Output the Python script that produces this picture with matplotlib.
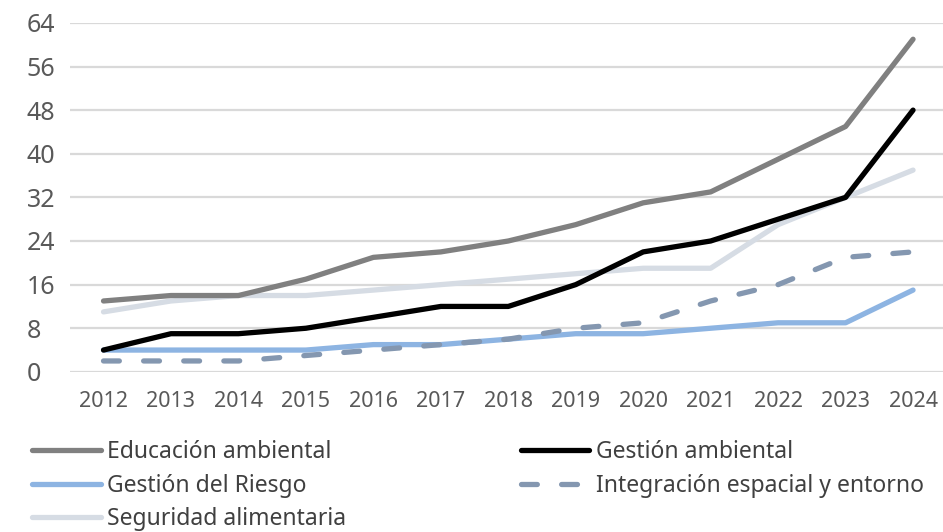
import matplotlib
matplotlib.use('Agg')
import matplotlib.pyplot as plt

plt.rcParams['font.family'] = ['Noto Sans', 'DejaVu Sans']

years = ['2012', '2013', '2014', '2015', '2016', '2017', '2018',
         '2019', '2020', '2021', '2022', '2023', '2024']

educacion = [13, 14, 14, 17, 21, 22, 24, 27, 31, 33, 39, 45, 61]
gestion_amb = [4, 7, 7, 8, 10, 12, 12, 16, 22, 24, 28, 32, 48]
riesgo = [4, 4, 4, 4, 5, 5, 6, 7, 7, 8, 9, 9, 15]
integracion = [2, 2, 2, 3, 4, 5, 6, 8, 9, 13, 16, 21, 22]
seguridad = [11, 13, 14, 14, 15, 16, 17, 18, 19, 19, 27, 32, 37]

y_ticks = [0, 8, 16, 24, 32, 40, 48, 56, 64]

fig = plt.figure(figsize=(9.43, 5.32), dpi=100)
ax = fig.add_axes([0.074, 0.301, 0.93, 0.656])

x = range(len(years))
lw = 3.8
l_edu, = ax.plot(x, educacion, color='#808080', lw=lw, solid_capstyle='round',
                 label='Educación ambiental', zorder=3)
l_gam, = ax.plot(x, gestion_amb, color='#000000', lw=lw, solid_capstyle='round',
                 label='Gestión ambiental', zorder=4)
l_rie, = ax.plot(x, riesgo, color='#8DB4E2', lw=lw, solid_capstyle='round',
                 label='Gestión del Riesgo', zorder=3)
l_int, = ax.plot(x, integracion, color='#8497B0', lw=lw, dashes=(3.0, 4.6),
                 dash_capstyle='round', label='Integración espacial y entorno', zorder=3)
l_seg, = ax.plot(x, seguridad, color='#D6DCE4', lw=lw, solid_capstyle='round',
                 label='Seguridad alimentaria', zorder=2)

ax.set_xlim(-0.5, len(years) - 0.5)
ax.set_ylim(0, 64)
ax.set_yticks(y_ticks)
ax.set_xticks(list(x))
ax.set_xticklabels(years)
ax.yaxis.grid(True, color='#D9D9D9', lw=1.6)
ax.set_axisbelow(True)
for s in ax.spines.values():
    s.set_visible(False)
ax.tick_params(axis='both', length=0, colors='#595959')
ax.tick_params(axis='y', labelsize=18, pad=31)
ax.tick_params(axis='x', labelsize=15.5, pad=14)
for lab in ax.get_yticklabels():
    lab.set_horizontalalignment('left')

handles = [l_edu, l_rie, l_seg, l_gam, l_int]
fig.legend(handles=handles, labels=[h.get_label() for h in handles],
           ncol=2, loc='upper left', bbox_to_anchor=(0.024, 0.19),
           frameon=False, fontsize=16.5, handlelength=3.0, handletextpad=0.3,
           columnspacing=7.6, labelspacing=0.42, borderaxespad=0,
           labelcolor='#404040')

fig.savefig('out.png', dpi=100)
